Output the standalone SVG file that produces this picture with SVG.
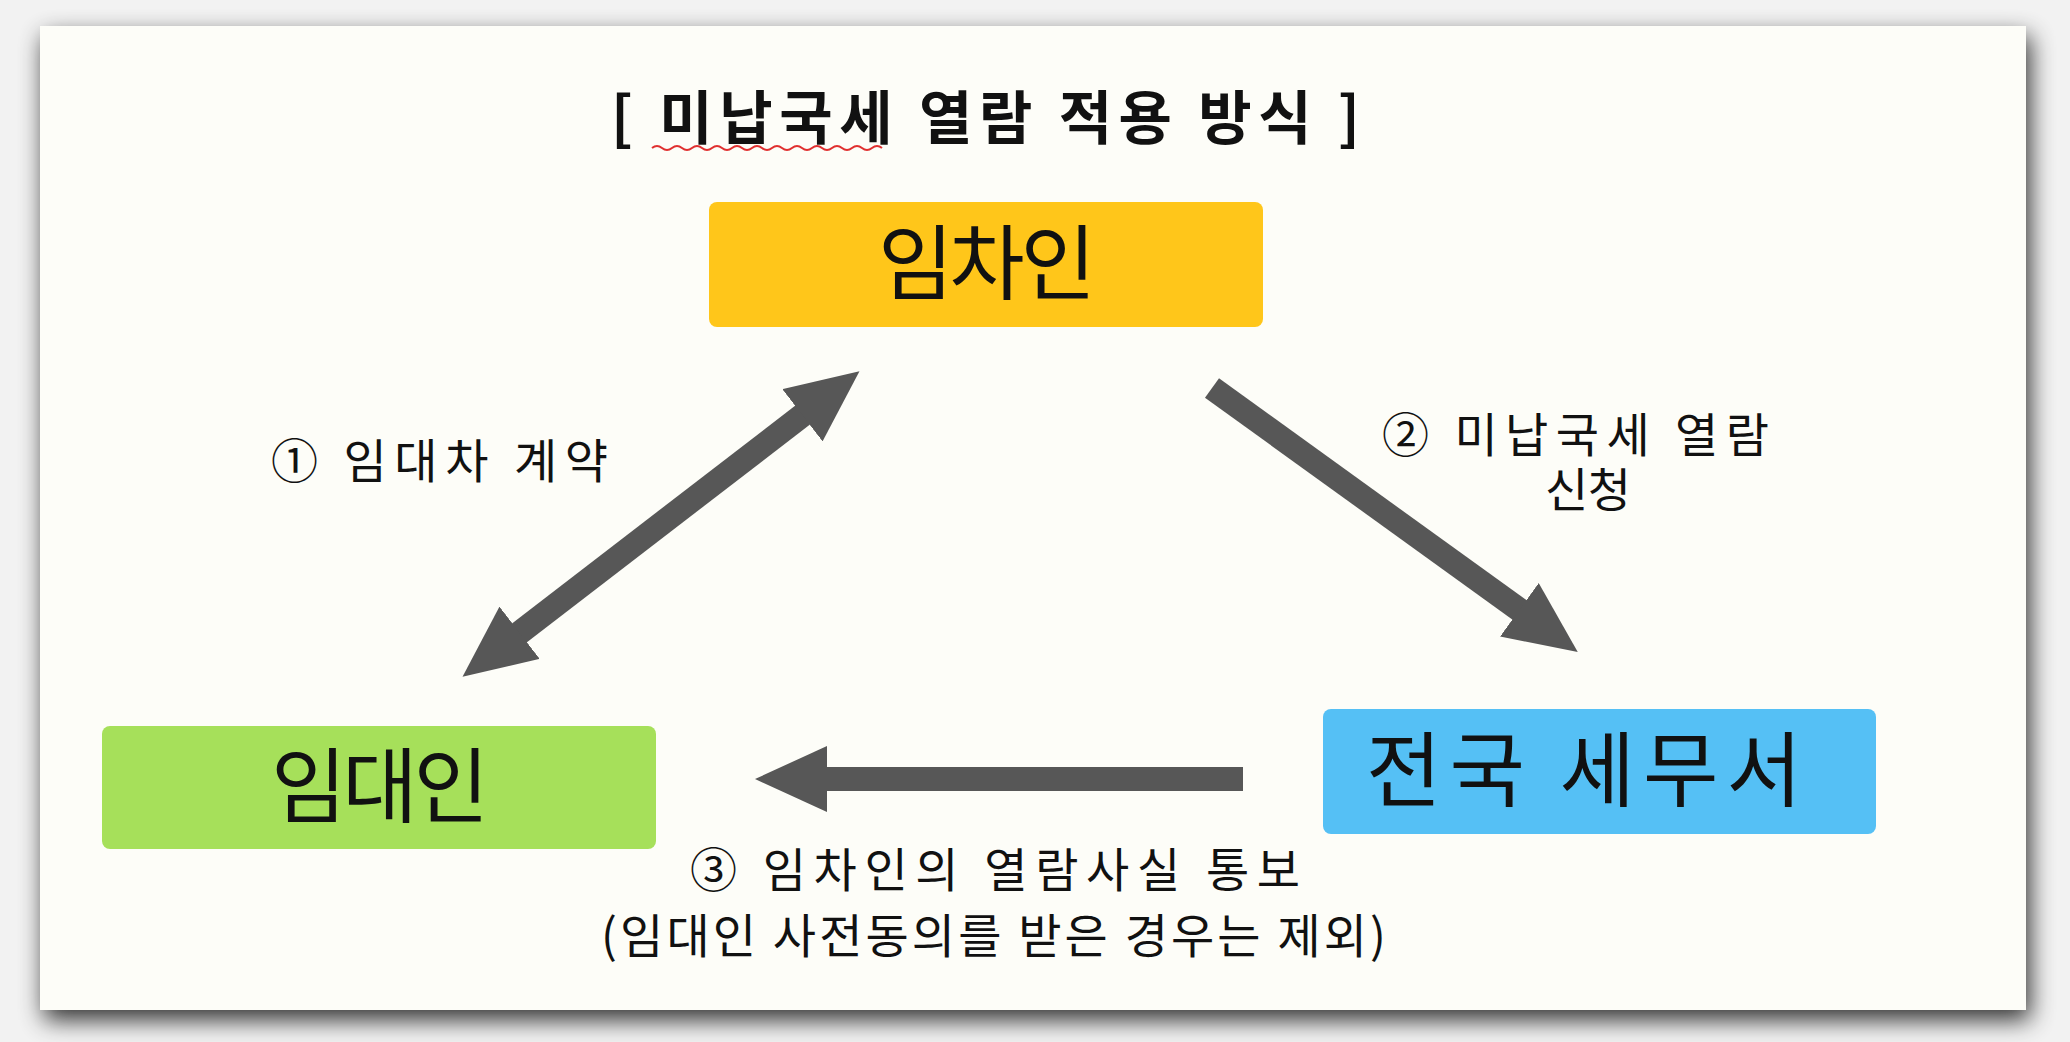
<svg xmlns="http://www.w3.org/2000/svg" width="2070" height="1042" viewBox="0 0 2070 1042">
<defs>
<filter id="sh" x="-5%" y="-5%" width="110%" height="115%"><feGaussianBlur in="SourceAlpha" stdDeviation="12"/><feOffset dx="4" dy="10"/><feComponentTransfer><feFuncA type="linear" slope="0.8"/></feComponentTransfer><feMerge><feMergeNode/><feMergeNode in="SourceGraphic"/></feMerge></filter>
<marker id="ah" markerUnits="userSpaceOnUse" markerWidth="72" markerHeight="66" refX="2" refY="33" orient="auto-start-reverse" viewBox="0 0 72 66"><path d="M0,0 L72,33 L0,66 Z" fill="#575757"/></marker>
<style>
text{font-family:"Noto Sans CJK KR","Noto Sans",sans-serif;fill:#111}
.n{font-size:82px}
.l{font-size:47px}
.arr{stroke:#575757;stroke-width:24;fill:none}
</style>
</defs>
<rect width="2070" height="1042" fill="#f2f2f2"/>
<rect x="40" y="26" width="1986" height="984" fill="#fdfdf8" filter="url(#sh)"/>
<text x="611" y="139" font-size="58" font-weight="bold" textLength="749" lengthAdjust="spacing">[ 미납국세 열람 적용 방식 ]</text>
<path d="M652,148 q5,-4 10,0 t10,0 t10,0 t10,0 t10,0 t10,0 t10,0 t10,0 t10,0 t10,0 t10,0 t10,0 t10,0 t10,0 t10,0 t10,0 t10,0 t10,0 t10,0 t10,0 t10,0 t10,0 t10,0" stroke="#e03030" stroke-width="2" fill="none"/>
<g id="node-tenant"><rect x="709" y="202" width="554" height="125" rx="8" fill="#ffc61a"/><text class="n" x="878" y="293" textLength="218" lengthAdjust="spacing">임차인</text></g>
<g id="node-landlord"><rect x="102" y="726" width="554" height="123" rx="8" fill="#a6e05a"/><text class="n" x="271" y="816" textLength="218" lengthAdjust="spacing">임대인</text></g>
<g id="node-taxoffice"><rect x="1323" y="709" width="553" height="125" rx="8" fill="#55c0f5"/><text class="n" x="1366" y="800" textLength="436" lengthAdjust="spacing">전국 세무서</text></g>
<g id="connectors">
<line class="arr" x1="518" y1="634" x2="804" y2="414" marker-start="url(#ah)" marker-end="url(#ah)"/>
<line class="arr" x1="1212" y1="388" x2="1521" y2="611" marker-end="url(#ah)"/>
<line class="arr" x1="1243" y1="779" x2="825" y2="779" marker-end="url(#ah)"/>
</g>
<g id="labels">
<text class="l" x="271" y="478" textLength="337" lengthAdjust="spacing">① 임대차 계약</text>
<text class="l" x="1382" y="452" textLength="387" lengthAdjust="spacing">② 미납국세 열람</text>
<text class="l" x="1545" y="507" textLength="86" lengthAdjust="spacing">신청</text>
<text class="l" x="690" y="887" textLength="610" lengthAdjust="spacing">③ 임차인의 열람사실 통보</text>
<text class="l" x="601" y="953" textLength="785" lengthAdjust="spacing">(임대인 사전동의를 받은 경우는 제외)</text>
</g>
</svg>
